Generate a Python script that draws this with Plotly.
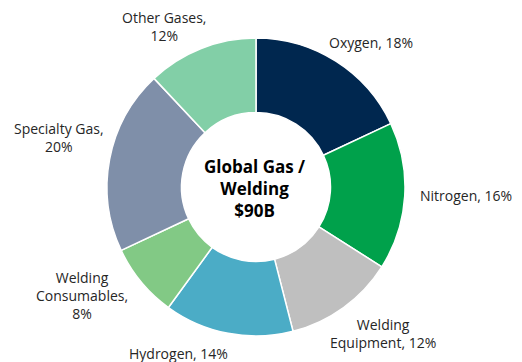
import math
import plotly.graph_objects as go

labels = ["Oxygen", "Nitrogen", "Welding<br>Equipment", "Hydrogen",
          "Welding<br>Consumables", "Specialty Gas", "Other Gases"]
label_texts = ["Oxygen, 18%", "Nitrogen, 16%", "Welding<br>Equipment, 12%", "Hydrogen, 14%",
               "Welding<br>Consumables,<br>8%", "Specialty Gas,<br>20%", "Other Gases,<br>12%"]
values = [18, 16, 12, 14, 8, 20, 12]
colors = ["#00274F", "#00A14B", "#BFBFBF", "#4BACC6", "#82C985", "#7F8FA9", "#82CFA7"]
center_title = "Global Gas /<br>Welding<br>$90B"

# layout (pixels)
W, H = 522, 362
CX, CY, R = 256, 187, 149
# label placement relative to each slice's mid-angle
label_angle_offset = [6.0, -1.4, -4.9, 14.2, 7.8, 3.4, -8.1]
label_dist = [185, 210, 194, 184, 205, 203, 185]

fig = go.Figure(go.Pie(
    labels=labels,
    values=values,
    hole=0.5,
    sort=False,
    direction="clockwise",
    rotation=0,
    marker=dict(colors=colors, line=dict(color="white", width=1.5)),
    textinfo="none",
    hoverinfo="label+percent",
    showlegend=False,
    domain=dict(x=[(CX - R) / W, (CX + R) / W], y=[1 - (CY + R) / H, 1 - (CY - R) / H]),
))

total = sum(values)
cum = 0
for i, v in enumerate(values):
    mid = (cum + v / 2) / total * 360
    cum += v
    a = math.radians(mid + label_angle_offset[i])
    px = CX + label_dist[i] * math.sin(a)
    py = CY - label_dist[i] * math.cos(a)
    fig.add_annotation(
        x=px / W, y=1 - py / H, xref="paper", yref="paper",
        text=label_texts[i], showarrow=False, align="center",
        xanchor="center", yanchor="middle",
        font=dict(family="Open Sans", size=14, color="#262626"),
    )

fig.add_annotation(
    x=254 / W, y=1 - 188 / H, xref="paper", yref="paper",
    text="<b>" + center_title + "</b>",
    showarrow=False, xanchor="center", yanchor="middle",
    font=dict(family="Open Sans", size=17, color="#000000"),
)

fig.update_layout(
    width=W, height=H,
    margin=dict(l=0, r=0, t=0, b=0),
    paper_bgcolor="white",
    plot_bgcolor="white",
)

fig.write_html("out.html")
